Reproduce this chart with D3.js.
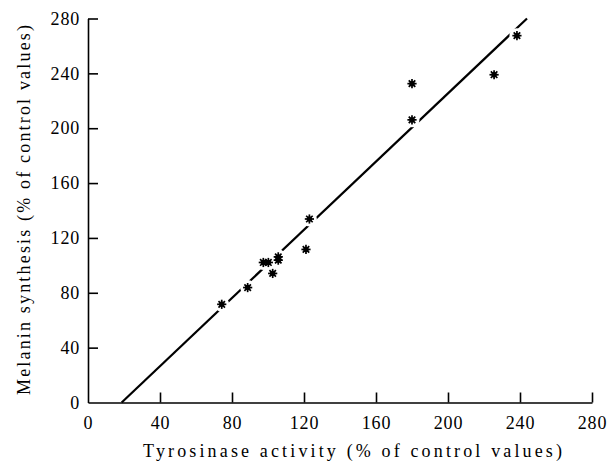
<!DOCTYPE html>
<html>
<head>
<meta charset="utf-8">
<script src="https://cdn.jsdelivr.net/npm/d3@7"></script>
<style>
  body { margin: 0; background: #fff; }
</style>
</head>
<body>
<div id="chart"></div>
<script>
// data
var tyrosinase = [74.3, 88.7, 97.4, 100.2, 102.6, 105.7, 105.7, 121.1, 123, 180, 180, 225.6, 238.3];
var melanin    = [71.6, 83.8, 102.1, 102.1, 94.1, 106.2, 103.8, 111.6, 133.8, 206.1, 232.5, 239, 267.5];
var fitX = [18.7, 243.9];   // regression line ends
var fitY = [0, 280];
var xTicks = [0, 40, 80, 120, 160, 200, 240, 280];
var yTicks = [0, 40, 80, 120, 160, 200, 240, 280];

var width = 612, height = 462;
var serif = "'Liberation Serif'";

var x = d3.scaleLinear().domain([0, 280]).range([88, 592]);
var y = d3.scaleLinear().domain([0, 280]).range([402.5, 18.5]);

var svg = d3.select("#chart").append("svg")
    .attr("width", width)
    .attr("height", height);

// axes, ticks point inward
var xAxis = svg.append("g")
    .attr("transform", "translate(0," + y(0) + ")")
    .call(d3.axisBottom(x).tickValues(xTicks).tickSizeInner(-10).tickSizeOuter(0).tickPadding(14));
xAxis.selectAll(".tick").filter(function(d) { return d === 0; }).select("line").remove();

var yAxis = svg.append("g")
    .attr("transform", "translate(" + x(0) + ",0)")
    .call(d3.axisLeft(y).tickValues(yTicks).tickSizeInner(-10).tickSizeOuter(0).tickPadding(8));
yAxis.selectAll(".tick").filter(function(d) { return d === 0; }).select("line").remove();

// d3 puts font-family="sans-serif" on the axis groups; drop it
xAxis.attr("font-family", null).attr("font-size", null);
yAxis.attr("font-family", null).attr("font-size", null);

svg.selectAll(".domain, .tick line")
    .attr("stroke", "#000")
    .attr("stroke-width", 1.6);
svg.selectAll(".tick text")
    .attr("fill", "#000")
    .attr("font-size", 18)
    .attr("letter-spacing", 0.8)
    .style("font-family", serif);

// fitted line
var fit = fitX.map(function(d, i) { return [d, fitY[i]]; });
svg.append("path")
    .datum(fit)
    .attr("fill", "none")
    .attr("stroke", "#000")
    .attr("stroke-width", 2.2)
    .attr("d", d3.line().x(function(d) { return x(d[0]); }).y(function(d) { return y(d[1]); }));

var points = tyrosinase.map(function(d, i) { return [d, melanin[i]]; });

// white halo breaks the line around each marker
svg.selectAll("circle.halo")
    .data(points)
    .enter().append("circle")
    .attr("class", "halo")
    .attr("cx", function(d) { return x(d[0]); })
    .attr("cy", function(d) { return y(d[1]); })
    .attr("r", 7.5)
    .attr("fill", "#fff");

var marks = svg.selectAll("g.mark")
    .data(points)
    .enter().append("g")
    .attr("class", "mark")
    .attr("transform", function(d) { return "translate(" + x(d[0]) + "," + y(d[1]) + ")"; });

// eight-spoke star
d3.range(8).forEach(function(k) {
  var a = k * Math.PI / 4;
  marks.append("line")
      .attr("x1", 0).attr("y1", 0)
      .attr("x2", 4.6 * Math.cos(a)).attr("y2", 4.6 * Math.sin(a))
      .attr("stroke", "#000")
      .attr("stroke-width", 1.7);
});
marks.append("circle")
    .attr("r", 2.7)
    .attr("fill", "#000");

// axis titles
svg.append("text")
    .attr("x", 143)
    .attr("y", 456.5)
    .attr("font-size", 18)
    .attr("textLength", 419)
    .attr("lengthAdjust", "spacing")
    .style("font-family", serif)
    .text("Tyrosinase activity (% of control values)");

svg.append("text")
    .attr("transform", "translate(30,395) rotate(-90)")
    .attr("font-size", 18)
    .attr("textLength", 370)
    .attr("lengthAdjust", "spacing")
    .style("font-family", serif)
    .text("Melanin synthesis (% of control values)");
</script>
</body>
</html>
